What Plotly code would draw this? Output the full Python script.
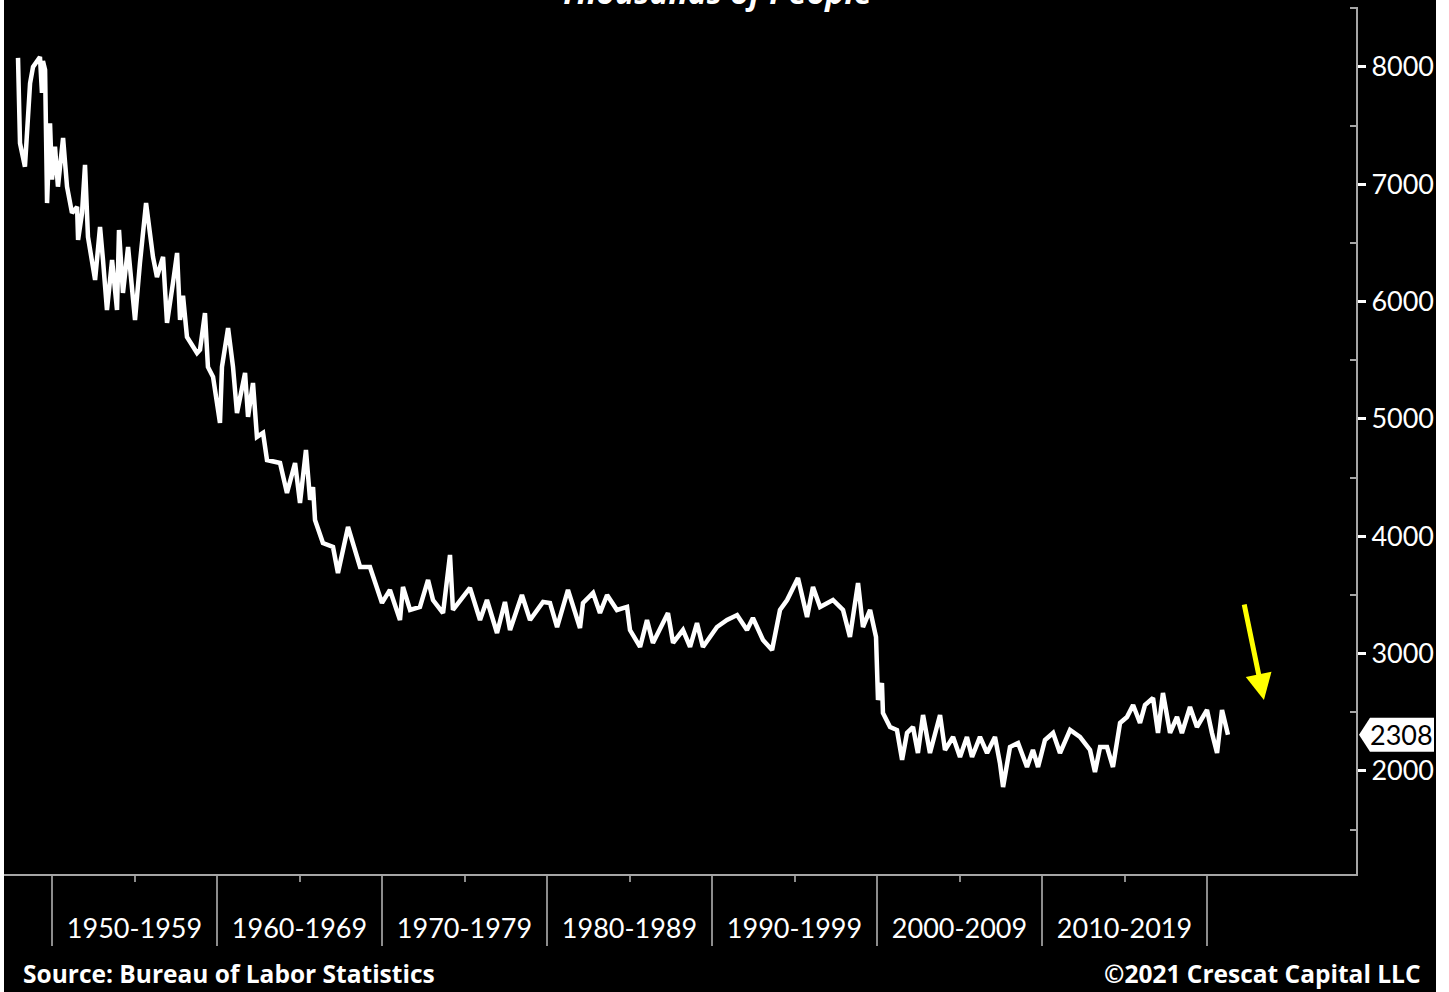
import plotly.graph_objects as go

# ---------------- data ----------------
YEARS = [
    1947.94, 1948.06, 1948.36, 1948.55, 1948.67, 1948.85, 1949.27, 1949.39, 1949.45, 1949.58,
    1949.70, 1949.88, 1950.00, 1950.18, 1950.36, 1950.67, 1950.91, 1951.21, 1951.52, 1951.58,
    1951.82, 1952.00, 1952.18, 1952.61, 1952.91, 1953.09, 1953.33, 1953.64, 1953.94, 1954.06,
    1954.30, 1954.61, 1955.03, 1955.33, 1955.70, 1956.12, 1956.36, 1956.73, 1956.97, 1957.33,
    1957.58, 1957.76, 1957.94, 1958.18, 1958.79, 1958.97, 1959.27, 1959.45, 1959.76, 1960.18,
    1960.30, 1960.67, 1960.97, 1961.21, 1961.70, 1961.88, 1962.18, 1962.42, 1962.79, 1963.03,
    1963.82, 1964.24, 1964.73, 1965.03, 1965.39, 1965.64, 1965.82, 1965.94, 1966.42, 1967.03,
    1967.33, 1967.94, 1968.67, 1969.27, 1970.00, 1970.48, 1971.09, 1971.27, 1971.70, 1972.30,
    1972.79, 1973.09, 1973.70, 1974.12, 1974.30, 1975.33, 1975.94, 1976.36, 1976.97, 1977.45,
    1977.76, 1978.48, 1978.97, 1979.76, 1980.18, 1980.61, 1981.27, 1982.00, 1982.18, 1982.79,
    1983.21, 1983.64, 1984.24, 1984.85, 1985.03, 1985.64, 1986.06, 1986.42, 1987.33, 1987.64,
    1988.24, 1988.67, 1989.09, 1989.45, 1990.30, 1990.91, 1991.52, 1992.12, 1992.48, 1993.09,
    1993.64, 1994.12, 1994.55, 1995.21, 1995.76, 1996.12, 1996.55, 1997.33, 1997.94, 1998.36,
    1998.85, 1999.15, 1999.58, 1999.94, 2000.06, 2000.30, 2000.36, 2000.79, 2001.21, 2001.52,
    2001.82, 2002.18, 2002.48, 2002.79, 2003.21, 2003.82, 2004.12, 2004.61, 2005.03, 2005.45,
    2005.76, 2006.24, 2006.67, 2007.15, 2007.45, 2007.64, 2008.06, 2008.55, 2009.09, 2009.45,
    2009.76, 2010.18, 2010.67, 2011.09, 2011.70, 2012.30, 2012.91, 2013.21, 2013.52, 2013.94,
    2014.30, 2014.73, 2015.15, 2015.52, 2015.94, 2016.24, 2016.73, 2017.03, 2017.33, 2017.76,
    2018.18, 2018.48, 2018.97, 2019.39, 2020.00, 2020.30, 2020.61, 2020.91, 2021.21, 2021.27,
]
VALUES = [
    8077, 7350, 7150, 7630, 7860, 8000, 8085, 7780, 8050, 7975,
    6840, 7520, 7040, 7320, 6980, 7395, 6980, 6756, 6807, 6525,
    6756, 7165, 6551, 6185, 6636, 6355, 5929, 6355, 5929, 6611,
    6074, 6466, 5844, 6330, 6840, 6381, 6210, 6381, 5818, 6159,
    6415, 5844, 6050, 5699, 5562, 5590, 5903, 5443, 5358, 4966,
    5443, 5775, 5443, 5051, 5392, 5017, 5307, 4847, 4881, 4650,
    4625, 4370, 4625, 4284, 4736, 4310, 4420, 4139, 3943, 3909,
    3687, 4080, 3739, 3739, 3432, 3543, 3287, 3568, 3372, 3398,
    3628, 3457, 3346, 3841, 3372, 3560, 3287, 3457, 3176, 3440,
    3201, 3500, 3287, 3440, 3432, 3227, 3543, 3219, 3432, 3517,
    3346, 3500, 3372, 3398, 3201, 3057, 3287, 3091, 3346, 3091,
    3201, 3057, 3261, 3057, 3227, 3287, 3329, 3201, 3304, 3116,
    3031, 3372, 3457, 3645, 3312, 3568, 3398, 3457, 3372, 3142,
    3602, 3227, 3372, 3142, 2605, 2750, 2494, 2375, 2349, 2094,
    2324, 2375, 2153, 2477, 2153, 2477, 2179, 2290, 2119, 2290,
    2119, 2290, 2153, 2290, 2068, 1863, 2204, 2238, 2034, 2179,
    2034, 2264, 2324, 2153, 2349, 2290, 2179, 1991, 2204, 2204,
    2034, 2409, 2460, 2562, 2409, 2562, 2622, 2324, 2665, 2324,
    2460, 2324, 2545, 2375, 2520, 2324, 2153, 2520, 2349, 2308,
]
DECADE_TICKS = [1950, 1960, 1970, 1980, 1990, 2000, 2010, 2020]
MID_TICKS = [1955, 1965, 1975, 1985, 1995, 2005, 2015]
DECADE_LABELS = ["1950-1959", "1960-1969", "1970-1979", "1980-1989",
                 "1990-1999", "2000-2009", "2010-2019"]
Y_TICKS = [2000, 3000, 4000, 5000, 6000, 7000, 8000]
Y_MINOR = [1500, 2500, 3500, 4500, 5500, 6500, 7500, 8500]
TITLE = "Thousands of People"
SOURCE = "Source: Bureau of Labor Statistics"
COPYRIGHT = "\u00a92021 Crescat Capital LLC"

# ---------------- geometry / style ----------------
W, H = 1449, 992
ML, MR, MT, MB = 4, 93, 7, 118
X_RANGE = [1947.09, 2029.03]
Y_RANGE = [1122, 8511]
FONT = "Lato, 'Open Sans', sans-serif"
BOLD_FONT = "'Open Sans', Lato, sans-serif"
AXIS_GREY = "#a6a6a6"

PW = W - ML - MR
PH = H - MT - MB


def px_x(px):
    return (px - ML) / PW


def px_y(py):
    return (H - MB - py) / PH


def val_y(v):
    return (v - Y_RANGE[0]) / (Y_RANGE[1] - Y_RANGE[0])


fig = go.Figure()
fig.add_trace(go.Scatter(
    x=YEARS, y=VALUES, mode="lines",
    line=dict(color="white", width=4.5),
    hoverinfo="skip", showlegend=False,
))
# invisible trace to carry the decade label axis
fig.add_trace(go.Scatter(
    x=YEARS, y=VALUES, xaxis="x2", mode="lines",
    line=dict(color="rgba(0,0,0,0)", width=0),
    hoverinfo="skip", showlegend=False,
))

last_val = VALUES[-1]
v_half = 17 / PH * (Y_RANGE[1] - Y_RANGE[0])

fig.update_layout(
    width=W, height=H,
    margin=dict(l=ML, r=MR, t=MT, b=MB, pad=0),
    paper_bgcolor="white",
    plot_bgcolor="black",
    font=dict(family=FONT, color="white"),
    xaxis=dict(
        range=X_RANGE, showgrid=False, zeroline=False,
        showline=True, linecolor=AXIS_GREY, linewidth=2,
        tickmode="array", tickvals=DECADE_TICKS, showticklabels=False,
        ticks="outside", ticklen=70, tickwidth=1.5, tickcolor="#8c8c8c",
        minor=dict(tickvals=MID_TICKS, ticks="outside", ticklen=6,
                   tickwidth=1.5, tickcolor="#8c8c8c", showgrid=False),
        fixedrange=True,
    ),
    xaxis2=dict(
        range=X_RANGE, overlaying="x", anchor="y", side="bottom",
        showgrid=False, zeroline=False, showline=False,
        tickmode="array", tickvals=MID_TICKS, ticktext=DECADE_LABELS,
        ticks="outside", ticklen=31, tickcolor="rgba(0,0,0,0)",
        tickfont=dict(family=FONT, size=27, color="white"),
        fixedrange=True,
    ),
    yaxis=dict(
        range=Y_RANGE, side="right", showgrid=False, zeroline=False,
        showline=True, linecolor=AXIS_GREY, linewidth=2,
        tickmode="array", tickvals=Y_TICKS,
        ticks="outside", ticklen=8, tickwidth=2.5, tickcolor="white",
        tickfont=dict(family=FONT, size=27, color="white"),
        minor=dict(tickvals=Y_MINOR, ticks="inside", ticklen=6,
                   tickwidth=1.5, tickcolor=AXIS_GREY, showgrid=False),
        fixedrange=True,
    ),
    shapes=[
        # black chart canvas
        dict(type="rect", xref="paper", yref="paper", layer="below",
             x0=px_x(4), x1=px_x(1436), y0=px_y(H + 2), y1=px_y(-2),
             fillcolor="black", line=dict(width=0)),
        # last-value pointer tag
        dict(type="path", xref="paper", yref="paper", layer="above",
             path=(f"M {px_x(1359)},{val_y(last_val)} "
                   f"L {px_x(1370)},{val_y(last_val + v_half)} "
                   f"L {px_x(1434)},{val_y(last_val + v_half)} "
                   f"L {px_x(1434)},{val_y(last_val - v_half)} "
                   f"L {px_x(1370)},{val_y(last_val - v_half)} Z"),
             fillcolor="white", line=dict(width=0)),
    ],
    annotations=[
        dict(text=f"<b><i>{TITLE}</i></b>", xref="paper", yref="paper",
             x=px_x(716), y=px_y(-9), xanchor="center", yanchor="middle",
             showarrow=False, font=dict(family=BOLD_FONT, size=32, color="white")),
        dict(text=f"<b>{SOURCE}</b>", xref="paper", yref="paper",
             x=px_x(21), y=px_y(973), xanchor="left", yanchor="middle",
             showarrow=False, font=dict(family=BOLD_FONT, size=24.5, color="white")),
        dict(text=f"<b>{COPYRIGHT}</b>", xref="paper", yref="paper",
             x=px_x(1423), y=px_y(973), xanchor="right", yanchor="middle",
             showarrow=False, font=dict(family=BOLD_FONT, size=24.5, color="white")),
        dict(text=str(last_val), xref="paper", yref="y",
             x=px_x(1401), y=last_val, xanchor="center", yanchor="middle",
             showarrow=False, font=dict(family=FONT, size=27, color="black")),
        # yellow arrow
        dict(text="", x=2023.45, y=2605, xref="x", yref="y",
             showarrow=True, ax=-20, ay=-97, axref="pixel", ayref="pixel",
             arrowcolor="#ffff00", arrowwidth=5, arrowhead=2, arrowsize=1.05),
    ],
)

fig.write_html("out.html", include_plotlyjs=True,
               config={"displayModeBar": False},
               post_script="document.body.style.margin='0';document.body.style.overflow='hidden';")
